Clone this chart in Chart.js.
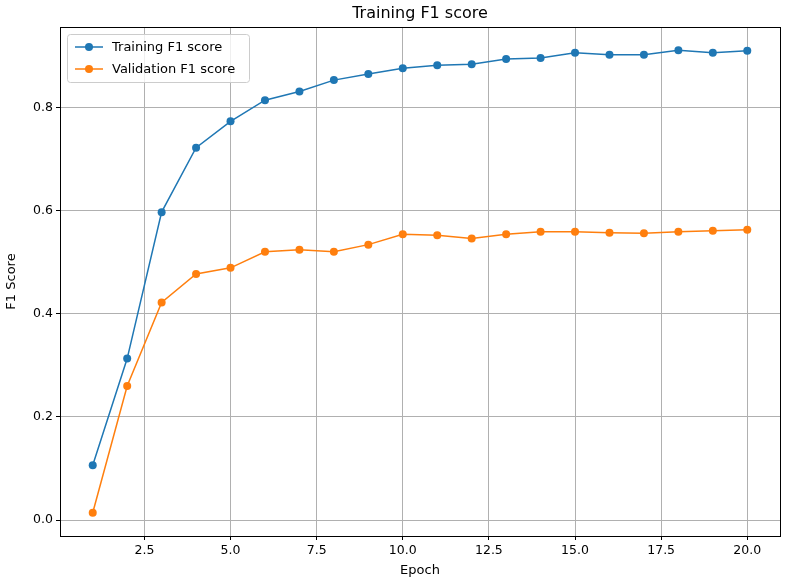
<!DOCTYPE html>
<html>
<head>
<meta charset="utf-8">
<script src="https://cdn.jsdelivr.net/npm/chart.js@4"></script>
<style>
  html, body { margin: 0; padding: 0; background: #fff; }
  #wrap { width: 804px; height: 582px; }
</style>
</head>
<body>
<div id="wrap"><canvas id="chart" width="804" height="582"></canvas></div>
<script>
const epochs = [1, 2, 3, 4, 5, 6, 7, 8, 9, 10, 11, 12, 13, 14, 15, 16, 17, 18, 19, 20];
const trainF1 = [0.106, 0.313, 0.597, 0.722, 0.773, 0.814, 0.831, 0.853, 0.865, 0.876,
                 0.882, 0.884, 0.894, 0.896, 0.906, 0.902, 0.902, 0.911, 0.906, 0.910];
const valF1 = [0.014, 0.260, 0.422, 0.477, 0.489, 0.520, 0.524, 0.520, 0.534, 0.554,
               0.552, 0.546, 0.554, 0.559, 0.559, 0.557, 0.556, 0.559, 0.561, 0.563];
const xTicks = [2.5, 5.0, 7.5, 10.0, 12.5, 15.0, 17.5, 20.0];
const yTicks = [0.0, 0.2, 0.4, 0.6, 0.8];

const FONT = "'DejaVu Sans', sans-serif";
const blue = "#1f77b4", orange = "#ff7f0e";

function series(label, values, color) {
  return {
    label: label,
    data: epochs.map((e, i) => ({ x: e, y: values[i] })),
    borderColor: color, backgroundColor: color,
    borderWidth: 1.5, pointRadius: 4, pointHoverRadius: 4,
    pointBorderWidth: 0, tension: 0
  };
}

// frame, title and legend drawn matplotlib-style
const decor = {
  id: "decor",
  afterDraw(chart) {
    const { ctx, chartArea: a } = chart;
    ctx.save();
    ctx.strokeStyle = "#000"; ctx.lineWidth = 1;
    ctx.strokeRect(a.left + 0.5, a.top + 0.5, a.right - a.left, a.bottom - a.top);
    ctx.fillStyle = "#000";
    ctx.font = "16px " + FONT;
    ctx.textAlign = "center"; ctx.textBaseline = "middle";
    ctx.fillText("Training F1 score", (a.left + a.right) / 2, 14);

    // legend box
    const lx = a.left + 7, ly = a.top + 7, lw = 182, lh = 48;
    ctx.fillStyle = "rgba(255,255,255,0.8)";
    ctx.strokeStyle = "#ccc";
    ctx.beginPath();
    ctx.roundRect(lx + 0.5, ly + 0.5, lw, lh, 3);
    ctx.fill(); ctx.stroke();
    ctx.font = "13px " + FONT;
    ctx.textAlign = "left";
    chart.data.datasets.forEach((ds, i) => {
      const cy = ly + 13 + i * 22;
      ctx.strokeStyle = ds.borderColor; ctx.lineWidth = 1.5;
      ctx.beginPath(); ctx.moveTo(lx + 8, cy); ctx.lineTo(lx + 36, cy); ctx.stroke();
      ctx.fillStyle = ds.borderColor;
      ctx.beginPath(); ctx.arc(lx + 22, cy, 4, 0, Math.PI * 2); ctx.fill();
      ctx.fillStyle = "#000";
      ctx.fillText(ds.label, lx + 45, cy + 1);
    });
    ctx.restore();
  }
};

new Chart(document.getElementById("chart"), {
  type: "line",
  data: { datasets: [series("Training F1 score", trainF1, blue), series("Validation F1 score", valF1, orange)] },
  options: {
    responsive: false, animation: false,
    layout: { padding: { left: 0, right: 24, top: 27, bottom: 0 } },
    plugins: { legend: { display: false }, title: { display: false }, tooltip: { enabled: false } },
    scales: {
      x: {
        type: "linear", min: 0.05, max: 20.95,
        afterBuildTicks: s => { s.ticks = xTicks.map(v => ({ value: v })); },
        afterFit: s => { s.height = 46; },
        ticks: { color: "#000", font: { family: FONT, size: 12.5 }, maxRotation: 0,
                 callback: v => v.toFixed(1) },
        grid: { color: "#b0b0b0", lineWidth: 1, tickLength: 4, tickColor: "#000" },
        border: { display: false },
        title: { display: true, text: "Epoch", color: "#000", font: { family: FONT, size: 13 }, padding: { top: 2 } }
      },
      y: {
        min: -0.031, max: 0.956,
        afterBuildTicks: s => { s.ticks = yTicks.map(v => ({ value: v })); },
        afterFit: s => { s.width = 60; },
        ticks: { color: "#000", font: { family: FONT, size: 12.5 },
                 callback: v => v.toFixed(1) },
        grid: { color: "#b0b0b0", lineWidth: 1, tickLength: 4, tickColor: "#000" },
        border: { display: false },
        title: { display: true, text: "F1 Score", color: "#000", font: { family: FONT, size: 13 }, padding: { bottom: 2 } }
      }
    }
  },
  plugins: [decor]
});
</script>
</body>
</html>
